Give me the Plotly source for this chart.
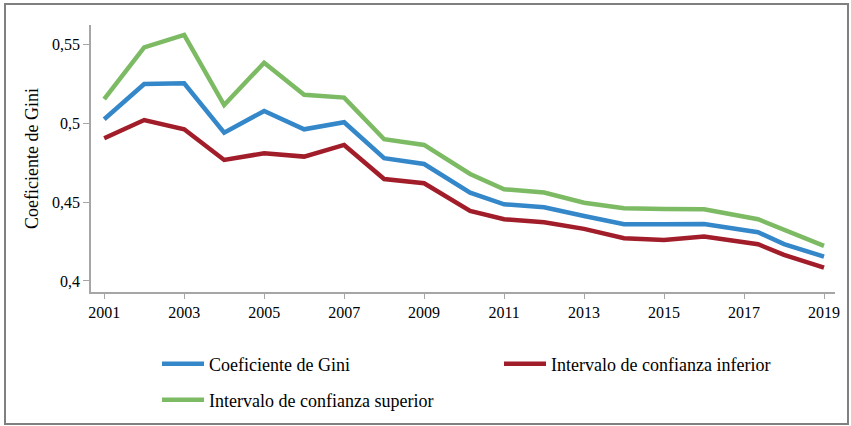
import plotly.graph_objects as go

years = [2001, 2002, 2003, 2004, 2005, 2006, 2007, 2008, 2009, 2010.15,
         2011, 2012, 2013, 2014, 2015, 2016, 2017.35, 2018, 2019]
gini = [0.5025, 0.5248, 0.5253, 0.4940, 0.5077, 0.4961, 0.5006, 0.4778, 0.4741, 0.4560,
        0.4486, 0.4467, 0.4412, 0.4359, 0.4359, 0.4361, 0.4309, 0.4234, 0.4154]
lower = [0.4904, 0.5020, 0.4961, 0.4767, 0.4809, 0.4788, 0.4862, 0.4646, 0.4619, 0.4444,
         0.4391, 0.4372, 0.4330, 0.4271, 0.4260, 0.4281, 0.4233, 0.4165, 0.4084]
upper = [0.5153, 0.5480, 0.5559, 0.5115, 0.5383, 0.5180, 0.5162, 0.4898, 0.4862, 0.4678,
         0.4581, 0.4560, 0.4496, 0.4461, 0.4456, 0.4454, 0.4391, 0.4323, 0.4222]
tick_years = [2001, 2003, 2005, 2007, 2009, 2011, 2013, 2015, 2017, 2019]
y_ticks = [0.4, 0.45, 0.5, 0.55]
y_tick_labels = ["0,4", "0,45", "0,5", "0,55"]

names = ["Coeficiente de Gini", "Intervalo de confianza inferior", "Intervalo de confianza superior"]
colors = ["#3487C9", "#A21D2A", "#7CBB63"]
legend_ids = ["legend", "legend2", "legend3"]

W, H = 851, 426
ml, mr, mt, mb = 91, 16, 25, 134
pw, ph = W - ml - mr, H - mt - mb


def px_x(p):
    return (p - ml) / pw


def px_y(p):
    return (H - mb - p) / ph


FONT = "Liberation Serif, Times New Roman, serif"

fig = go.Figure()
for name, vals, col, lg in zip(names, [gini, lower, upper], colors, legend_ids):
    fig.add_trace(go.Scatter(x=years, y=vals, mode="lines", name=name, legend=lg,
                             line=dict(color=col, width=4.5)))


def leg(xp, yp):
    return dict(x=px_x(xp), y=px_y(yp), xanchor="left", yanchor="middle",
                orientation="h", itemwidth=42, bgcolor="rgba(0,0,0,0)",
                font=dict(family=FONT, size=18, color="black"))


fig.update_layout(
    width=W, height=H,
    margin=dict(l=ml, r=mr, t=mt, b=mb, autoexpand=False),
    paper_bgcolor="white", plot_bgcolor="white",
    font=dict(family=FONT, size=16, color="black"),
    showlegend=True,
    legend=leg(157, 364),
    legend2=leg(499, 364),
    legend3=leg(157, 400),
    shapes=[dict(type="rect", xref="paper", yref="paper",
                 x0=px_x(5), x1=px_x(848), y0=px_y(424), y1=px_y(4),
                 line=dict(color="#808080", width=2), fillcolor="rgba(0,0,0,0)", layer="below")],
)
fig.update_xaxes(range=[2000.67, 2019.275], tickvals=tick_years, ticktext=[str(t) for t in tick_years],
                 showgrid=False, zeroline=False, showline=True, linecolor="#A6A6A6", linewidth=1.5,
                 ticks="outside", ticklen=5, tickcolor="#A6A6A6",
                 tickfont=dict(family=FONT, size=16, color="black"))
fig.update_yaxes(range=[0.393, 0.5622], tickvals=y_ticks, ticktext=y_tick_labels,
                 showgrid=False, zeroline=False, showline=True, linecolor="#A6A6A6", linewidth=1.5,
                 ticks="outside", ticklen=6, tickcolor="#A6A6A6",
                 tickfont=dict(family=FONT, size=16, color="black"),
                 title=dict(text="Coeficiente de Gini", font=dict(family=FONT, size=18, color="black"),
                            standoff=9))

fig.write_html("out.html", config={"displayModeBar": False},
               post_script="document.body.style.margin='0px';")
